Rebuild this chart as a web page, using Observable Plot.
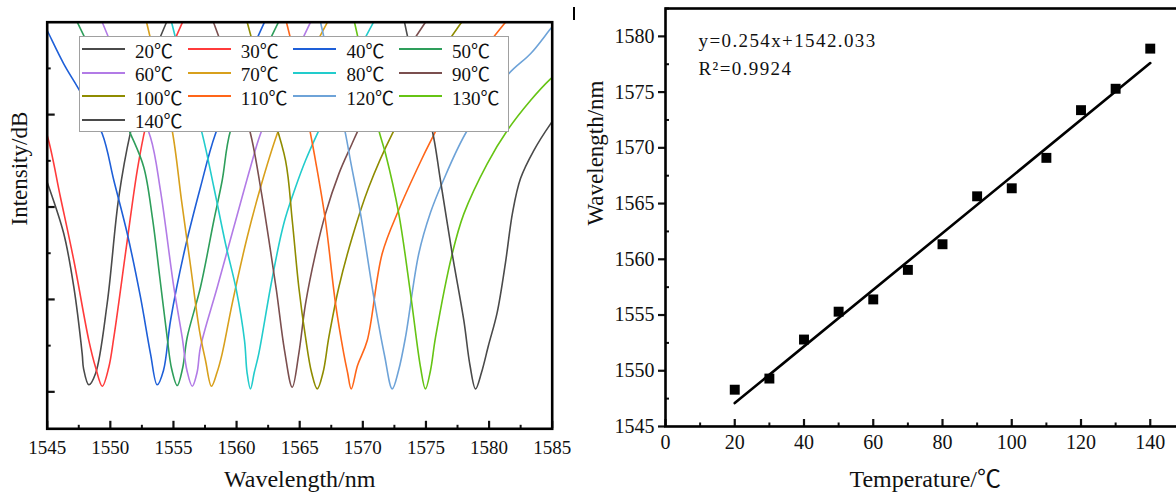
<!DOCTYPE html>
<html><head><meta charset="utf-8">
<script src="https://cdn.jsdelivr.net/npm/d3@7"></script>
<script src="https://cdn.jsdelivr.net/npm/@observablehq/plot@0.6"></script>
<style>
html,body{margin:0;padding:0;background:#fff;}
#wrap{position:relative;width:1176px;height:492px;overflow:hidden;font-family:"Liberation Serif","Noto Sans CJK SC",serif;}
#left{position:absolute;left:0;top:0;width:560px;height:492px;}
#right{position:absolute;left:570px;top:0;width:640px;height:492px;}
#wrap svg{max-width:none !important;}
#legend{position:absolute;left:79px;top:36px;width:430px;height:96px;border:1px solid #a0a0a0;background:#fff;box-sizing:border-box;}
#legend .item{position:absolute;display:flex;align-items:center;height:22px;font-size:19px;color:#111;white-space:nowrap;}
#legend .sw{width:43px;height:2px;margin-right:10px;}
#mark{position:absolute;left:573px;top:7px;width:1.5px;height:13px;background:#000;}
</style></head><body>
<div id="wrap"><div id="left"></div><div id="right"></div><div id="legend"></div><div id="mark"></div></div>
<script>
// ---------- Left panel: transmission spectra ----------
const temps = ["20℃","30℃","40℃","50℃","60℃","70℃","80℃","90℃","100℃","110℃","120℃","130℃","140℃"];
const lineColors = ["#4a4a4a","#ff3b3b","#1e5fd8","#2e9e5b","#b27be6","#d8a01c","#22cccc","#7b4f4f","#8f8c00","#ff6619","#6ea3d8","#66c414","#4a4a4a"];

const s20 = [[1544.21,-14.4],[1545.00,-17.32],[1546.31,-22.87],[1547.11,-28.68],[1547.77,-35.86],[1547.88,-37.48],[1548.30,-39.24],[1548.83,-38.02],[1549.75,-30.44],[1550.67,-18.94],[1551.60,-11.90],[1552.79,-5.77],[1554.45,0]];
const s30 = [[1544.21,-9.56],[1545.00,-12.26],[1546.05,-18.94],[1547.11,-25.79],[1548.30,-34.45],[1548.83,-37.34],[1549.36,-39.39],[1549.88,-37.34],[1550.28,-34.09],[1551.34,-23.63],[1552.13,-16.05],[1552.79,-11.36],[1553.97,-5.77],[1555.72,0]];
const s40 = [[1544.21,1.27],[1545.00,-0.90],[1546.31,-4.50],[1547.64,-7.58],[1549.36,-12.08],[1550.28,-17.13],[1551.34,-22.87],[1552.39,-29.76],[1553.18,-35.86],[1553.71,-39.24],[1554.21,-37.69],[1554.77,-32.28],[1555.82,-25.06],[1557.14,-17.86],[1558.33,-12.08],[1560.31,-5.77],[1562.21,0]];
const s50 = [[1547.38,0],[1549.62,-6.31],[1551.60,-12.08],[1552.65,-15.69],[1553.34,-21.24],[1553.90,-27.41],[1554.50,-34.09],[1554.85,-37.48],[1555.30,-39.32],[1555.72,-37.48],[1556.09,-34.09],[1557.14,-28.68],[1558.20,-21.46],[1558.86,-17.13],[1559.52,-11.72],[1561.50,-5.23],[1563.32,0]];
const s60 = [[1549.36,0],[1551.60,-7.39],[1553.18,-12.45],[1553.97,-18.21],[1555.03,-28.68],[1555.69,-34.09],[1556.07,-37.69],[1556.49,-39.39],[1556.87,-37.91],[1557.14,-35.17],[1558.47,-28.68],[1559.78,-22.19],[1561.10,-15.69],[1561.90,-12.08],[1563.88,-5.77],[1565.86,0]];
const s70 = [[1552.87,0],[1553.82,-5.44],[1554.90,-11.72],[1555.64,-19.30],[1556.35,-26.33],[1557.06,-33.37],[1557.54,-36.61],[1558.01,-39.39],[1558.45,-37.91],[1558.86,-35.86],[1559.65,-30.48],[1560.84,-23.27],[1561.90,-17.86],[1563.22,-12.08],[1565.06,-5.77],[1567.20,0]];
const s80 = [[1554.85,0],[1555.95,-5.77],[1557.28,-12.08],[1558.20,-17.86],[1559.12,-23.95],[1559.99,-29.04],[1560.63,-34.45],[1560.83,-37.91],[1561.10,-39.68],[1561.40,-37.91],[1561.76,-35.86],[1562.69,-28.68],[1563.48,-23.27],[1563.88,-21.10],[1564.67,-17.86],[1565.46,-14.97],[1566.39,-12.08],[1568.63,-5.77],[1570.85,0]];
const s90 = [[1558.17,0],[1559.68,-5.77],[1561.10,-12.05],[1561.90,-17.89],[1562.53,-23.30],[1563.16,-29.04],[1563.80,-35.53],[1564.41,-39.50],[1564.93,-35.86],[1565.46,-30.48],[1566.25,-25.06],[1567.04,-20.74],[1568.10,-16.41],[1569.02,-13.53],[1569.97,-10.75],[1572.19,-5.77],[1574.96,0]];
const s100 = [[1560.84,0],[1562.53,-8.47],[1563.88,-14.97],[1564.41,-21.46],[1564.93,-28.68],[1565.46,-34.09],[1565.94,-37.91],[1566.39,-39.68],[1566.85,-37.91],[1567.31,-34.09],[1568.10,-28.68],[1569.16,-23.27],[1570.47,-17.86],[1572.33,-12.08],[1574.96,-5.77],[1577.82,0]];
const s110 = [[1563.95,0],[1565.06,-6.31],[1565.86,-12.08],[1566.25,-14.97],[1567.04,-21.46],[1567.84,-30.48],[1568.49,-35.86],[1568.79,-37.91],[1569.08,-39.68],[1569.58,-37.15],[1570.35,-34.45],[1571.53,-25.06],[1572.85,-20.30],[1574.57,-15.10],[1575.36,-12.90],[1578.13,-5.77],[1581.30,0]];
const s120 = [[1566.65,0],[1567.60,-5.77],[1568.63,-12.08],[1569.02,-14.97],[1569.82,-20.74],[1570.87,-29.76],[1571.72,-36.07],[1572.33,-39.68],[1572.83,-37.69],[1573.38,-34.09],[1574.43,-25.06],[1575.36,-20.60],[1576.29,-17.40],[1578.27,-11.72],[1581.56,-5.58],[1583.28,-3.42],[1584.87,-0.71],[1585.66,0.62]];
const s130 = [[1569.34,0],[1570.29,-5.77],[1571.27,-11.72],[1571.80,-14.24],[1572.85,-20.74],[1573.78,-29.39],[1574.57,-37.34],[1574.96,-39.68],[1575.36,-37.69],[1575.76,-34.09],[1577.08,-25.06],[1578.00,-20.74],[1579.85,-15.32],[1581.44,-11.72],[1583.28,-8.47],[1584.87,-6.13],[1585.66,-5.23]];
const s140 = [[1573.30,0],[1574.25,-5.77],[1575.50,-11.72],[1576.15,-17.13],[1577.08,-25.06],[1578.00,-32.28],[1578.49,-37.15],[1578.93,-39.68],[1579.40,-37.91],[1579.95,-34.99],[1580.64,-31.42],[1581.30,-26.01],[1581.86,-20.60],[1582.49,-16.92],[1583.54,-13.89],[1584.87,-11.00],[1585.66,-9.56]];
const spectra = [s20,s30,s40,s50,s60,s70,s80,s90,s100,s110,s120,s130,s140];

const leftXTicks = [1545,1550,1555,1560,1565,1570,1575,1580,1585];
const leftXMinor = [1547.5,1552.5,1557.5,1562.5,1567.5,1572.5,1577.5,1582.5];
const leftYMajor = [-40,-30,-20,-10];
const leftYMinor = [-35,-25,-15,-5];

// ---------- Right panel: dip wavelength vs temperature ----------
const tempC = [20,30,40,50,60,70,80,90,100,110,120,130,140];
const dipWavelength = [1548.3,1549.3,1552.8,1555.3,1556.4,1559.05,1561.35,1565.65,1566.37,1569.1,1573.38,1575.3,1578.9];
const fitT = [20,140];
const fitW = [1547.1,1577.6];
const eqText = ["y=0.254x+1542.033"];
const r2Text = ["R²=0.9924"];
const rightXTicks = [0,20,40,60,80,100,120,140];
const rightXMinor = [10,30,50,70,90,110,130];
const rightYTicks = [1545,1550,1555,1560,1565,1570,1575,1580];
const rightYMinor = [1547.5,1552.5,1557.5,1562.5,1567.5,1572.5,1577.5,1582.5];

const FONT = '"Liberation Serif","Noto Sans CJK SC",serif';

const specRows = spectra.flatMap((s, i) => s.map(([w, v]) => ({w, v, t: temps[i]})));

const left = Plot.plot({
  width: 560, height: 492,
  marginLeft: 46.7, marginRight: 8.3, marginTop: 21.7, marginBottom: 63.7,
  x: {domain: [1545, 1585]},
  y: {domain: [-44, 0]},
  color: {domain: temps, range: lineColors},
  style: {fontFamily: FONT, fontSize: "19px", color: "#111", background: "transparent", overflow: "visible"},
  marks: [
    Plot.line(specRows, {x: "w", y: "v", z: "t", stroke: "t", strokeWidth: 1.6, curve: "catmull-rom", clip: true}),
    Plot.axisX(leftXTicks, {tickSize: 0, tickPadding: 12, tickFormat: "d", fontSize: 19, label: null}),
    Plot.axisX(leftXTicks, {tickSize: -7.5, strokeWidth: 2.2, text: null, label: null}),
    Plot.axisX(leftXMinor, {tickSize: -3.5, strokeWidth: 2, text: null, label: null}),
    Plot.axisY(leftYMajor, {tickSize: -8, strokeWidth: 2.2, text: null, label: null}),
    Plot.axisY(leftYMinor, {tickSize: -4, strokeWidth: 2, text: null, label: null}),
    Plot.frame({stroke: "#000", strokeWidth: 2.6}),
    Plot.text(["Wavelength/nm"], {frameAnchor: "bottom", dy: 58, lineAnchor: "bottom", fontSize: 24, fill: "#111"}),
    Plot.text(["Intensity/dB"], {frameAnchor: "left", dx: -20, rotate: -90, lineAnchor: "bottom", fontSize: 23, fill: "#111"})
  ]
});
document.getElementById("left").appendChild(left);

// legend
const legend = document.getElementById("legend");
temps.forEach((t, i) => {
  const col = i % 4, row = Math.floor(i / 4);
  const it = document.createElement("div");
  it.className = "item";
  it.style.left = (2 + col * 105.7) + "px";
  it.style.top = (13.3 + row * 23.4 - 11 - 1) + "px";
  const sw = document.createElement("div");
  sw.className = "sw";
  sw.style.background = lineColors[i];
  const lb = document.createElement("span");
  lb.textContent = t;
  it.appendChild(sw); it.appendChild(lb);
  legend.appendChild(it);
});

const pts = tempC.map((t, i) => ({t, w: dipWavelength[i]}));
const fit = fitT.map((t, i) => ({t, w: fitW[i]}));

const right = Plot.plot({
  width: 624.4, height: 492,
  marginLeft: 95, marginRight: 10, marginTop: 8, marginBottom: 66,
  x: {domain: [0, 150]},
  y: {domain: [1545, 1582.5]},
  style: {fontFamily: FONT, fontSize: "20px", color: "#111", background: "transparent", overflow: "visible"},
  marks: [
    Plot.line(fit, {x: "t", y: "w", stroke: "#000", strokeWidth: 2.6}),
    Plot.dot(pts, {x: "t", y: "w", symbol: "square", r: 5.6, fill: "#000", stroke: "none"}),
    Plot.axisX(rightXTicks, {tickSize: 0, tickPadding: 8, tickFormat: "d", fontSize: 20, label: null}),
    Plot.axisX(rightXTicks, {tickSize: -7, strokeWidth: 2.2, text: null, label: null}),
    Plot.axisX(rightXMinor, {tickSize: -3.5, strokeWidth: 2, text: null, label: null}),
    Plot.axisY(rightYTicks, {tickSize: 7, strokeWidth: 2.2, tickPadding: 4, tickFormat: "d", fontSize: 20, label: null}),
    Plot.axisY(rightYMinor, {tickSize: -4, strokeWidth: 2, text: null, label: null}),
    Plot.frame({stroke: "#000", strokeWidth: 2.6}),
    Plot.text(eqText, {frameAnchor: "top-left", dx: 33, dy: 32, textAnchor: "start", lineAnchor: "middle", fontSize: 19, fill: "#111"}),
    Plot.text(r2Text, {frameAnchor: "top-left", dx: 33, dy: 60, textAnchor: "start", lineAnchor: "middle", fontSize: 19, fill: "#111"}),
    Plot.text(["Temperature/℃"], {frameAnchor: "bottom", dy: 61, lineAnchor: "bottom", fontSize: 24, fill: "#111"}),
    Plot.text(["Wavelength/nm"], {frameAnchor: "left", dx: -63, dy: 8, rotate: -90, lineAnchor: "bottom", fontSize: 23, fill: "#111"})
  ]
});
document.getElementById("right").appendChild(right);
d3.select(right).selectAll("text").filter(function(){ return /^(y=|R²)/.test(this.textContent); }).style("letter-spacing", "1.4px");
</script>
</body></html>
